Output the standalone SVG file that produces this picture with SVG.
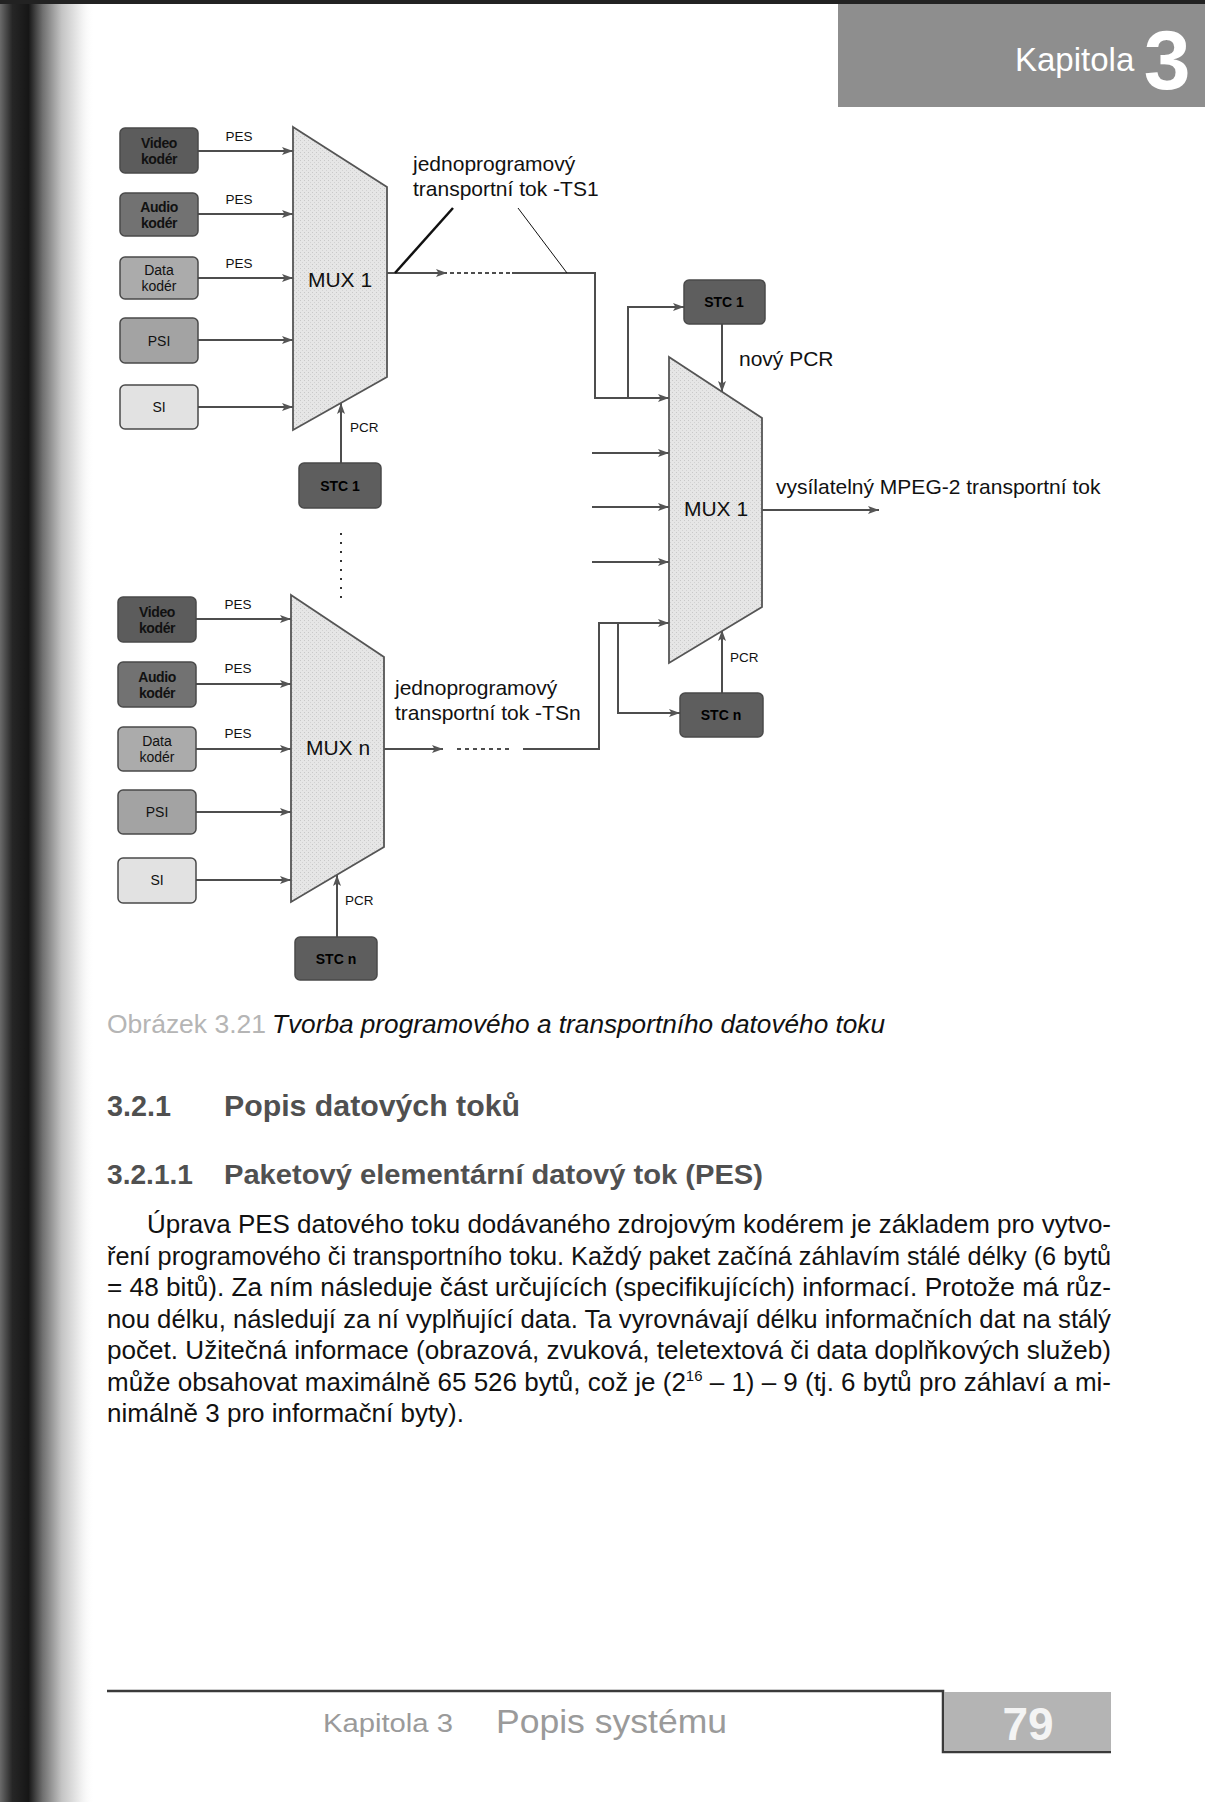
<svg xmlns="http://www.w3.org/2000/svg" width="1205" height="1802" viewBox="0 0 1205 1802">
<style>
.ln{fill:none;stroke:#4d4d4d;stroke-width:2}
.arr{marker-end:url(#ah)}
.mux{fill:url(#stip);stroke:#555;stroke-width:1.8}
.box{stroke:#4a4a4a;stroke-width:1.5}
.bl{font-family:"Liberation Sans",Arial,sans-serif;font-size:14px;font-weight:bold;fill:#111;text-anchor:middle;letter-spacing:-0.4px}
.br{font-family:"Liberation Sans",Arial,sans-serif;font-size:14px;fill:#111;text-anchor:middle}
.sm{font-family:"Liberation Sans",Arial,sans-serif;font-size:13.5px;fill:#111}
.lab{font-family:"Liberation Sans",Arial,sans-serif;font-size:21px;fill:#111}
.mx{font-family:"Liberation Sans",Arial,sans-serif;font-size:21px;fill:#111;text-anchor:middle}
.stc{font-family:"Liberation Sans",Arial,sans-serif;font-size:14px;font-weight:bold;fill:#000;text-anchor:middle}
.body{font-family:"Liberation Sans",Arial,sans-serif;font-size:26px;fill:#111}
.hd{font-family:"Liberation Sans",Arial,sans-serif;font-weight:bold;fill:#505050}
</style>
<defs>
<marker id="ah" viewBox="0 0 11 8" refX="11" refY="4" markerWidth="11" markerHeight="8" markerUnits="userSpaceOnUse" orient="auto">
<path d="M0,0 L11,4 L0,8 L2.5,4 z" fill="#555"/>
</marker>
<pattern id="stip" width="4" height="4" patternUnits="userSpaceOnUse">
<rect width="4" height="4" fill="#e6e6e6"/>
<rect x="0" y="0" width="1" height="1" fill="#c8c8c8"/>
<rect x="2" y="2" width="1" height="1" fill="#d2d2d2"/>
</pattern>
<linearGradient id="edge" x1="0" y1="0" x2="1" y2="0">
<stop offset="0" stop-color="#6a6a6a"/>
<stop offset="0.13" stop-color="#262626"/>
<stop offset="0.3" stop-color="#161616"/>
<stop offset="0.45" stop-color="#707070"/>
<stop offset="0.65" stop-color="#c4c4c4"/>
<stop offset="0.85" stop-color="#efefef"/>
<stop offset="1" stop-color="#fff" stop-opacity="0"/>
</linearGradient>
</defs>
<rect width="1205" height="1802" fill="#fff"/>
<rect x="0" y="0" width="95" height="1802" fill="url(#edge)"/>
<rect x="0" y="0" width="1205" height="4" fill="#222"/>

<g id="header">
<rect x="838" y="4" width="367" height="103" fill="#8e8e8e"/>
<text x="1015" y="71" font-family="Liberation Sans,Arial,sans-serif" font-size="33" fill="#fff">Kapitola</text>
<text x="1167" y="89" font-family="Liberation Sans,Arial,sans-serif" font-size="84" font-weight="bold" fill="#fff" text-anchor="middle">3</text>
</g>

<g id="connectors">
<path class="ln arr" d="M198,151 H293"/>
<path class="ln arr" d="M198,214 H293"/>
<path class="ln arr" d="M198,278 H293"/>
<path class="ln arr" d="M198,340 H293"/>
<path class="ln arr" d="M198,407 H293"/>
<path class="ln arr" d="M341,463 V403"/>
<path class="ln arr" d="M387,273 H447"/>
<path class="ln" d="M450,273 H510" stroke-dasharray="4 3"/>
<path class="ln arr" d="M512,273 H595 V398 H669"/>
<path class="ln arr" d="M628,398 V307 H684"/>
<path d="M395,273 L453,208" stroke="#111" stroke-width="2.5" fill="none"/>
<path d="M518,208 L567,273" stroke="#111" stroke-width="1" fill="none"/>
<path class="ln arr" d="M722,324 V392"/>
<path class="ln arr" d="M592,453 H669"/>
<path class="ln arr" d="M592,507 H669"/>
<path class="ln arr" d="M592,562 H669"/>
<path class="ln arr" d="M762,510 H879"/>
<path d="M341,533 V605" stroke="#333" stroke-width="2" stroke-dasharray="2 7" fill="none"/>
<path class="ln arr" d="M196,619 H291"/>
<path class="ln arr" d="M196,684 H291"/>
<path class="ln arr" d="M196,749 H291"/>
<path class="ln arr" d="M196,812 H291"/>
<path class="ln arr" d="M196,880 H291"/>
<path class="ln arr" d="M337,937 V875"/>
<path class="ln arr" d="M384,749 H443"/>
<path class="ln" d="M457,749 H512" stroke-dasharray="4 4"/>
<path class="ln arr" d="M523,749 H599 V623 H669"/>
<path class="ln arr" d="M618,623 V713 H680"/>
<path class="ln arr" d="M722,693 V630"/>
</g>

<g id="lbl-pes">
<text class="sm" x="239" y="141" text-anchor="middle">PES</text>
<text class="sm" x="239" y="204" text-anchor="middle">PES</text>
<text class="sm" x="239" y="268" text-anchor="middle">PES</text>
<text class="sm" x="238" y="609" text-anchor="middle">PES</text>
<text class="sm" x="238" y="673" text-anchor="middle">PES</text>
<text class="sm" x="238" y="738" text-anchor="middle">PES</text>
<text class="sm" x="350" y="432">PCR</text>
<text class="sm" x="345" y="905">PCR</text>
<text class="sm" x="730" y="662">PCR</text>
</g>

<g id="video1"><rect class="box" x="120" y="128" width="78" height="45" rx="5" fill="#5c5c5c"/><text class="bl" x="159" y="148">Video</text><text class="bl" x="159" y="164">kodér</text></g>
<g id="audio1"><rect class="box" x="120" y="193" width="78" height="43" rx="5" fill="#727272"/><text class="bl" x="159" y="212">Audio</text><text class="bl" x="159" y="228">kodér</text></g>
<g id="data1"><rect class="box" x="120" y="257" width="78" height="42" rx="5" fill="#ababab"/><text class="br" x="159" y="275">Data</text><text class="br" x="159" y="291">kodér</text></g>
<g id="psi1"><rect class="box" x="120" y="318" width="78" height="45" rx="5" fill="#a3a3a3"/><text class="br" x="159" y="346">PSI</text></g>
<g id="si1"><rect class="box" x="120" y="385" width="78" height="44" rx="5" fill="#e2e2e2"/><text class="br" x="159" y="412">SI</text></g>

<g id="mux1"><polygon class="mux" points="293,127 387,187 387,377 293,430"/><text class="mx" x="340" y="287">MUX 1</text></g>
<g id="stc1a"><rect class="box" x="299" y="463" width="82" height="45" rx="5" fill="#5e5e5e"/><text class="stc" x="340" y="491">STC 1</text></g>

<g id="lbl-ts1"><text class="lab" x="413" y="171">jednoprogramový</text><text class="lab" x="413" y="196">transportní tok -TS1</text></g>

<g id="stc1b"><rect class="box" x="684" y="280" width="81" height="44" rx="5" fill="#5e5e5e"/><text class="stc" x="724" y="307">STC 1</text></g>
<g id="lbl-pcr"><text class="lab" x="739" y="366">nový PCR</text></g>
<g id="muxr"><polygon class="mux" points="669,357 762,418 762,607 669,663"/><text class="mx" x="716" y="516">MUX 1</text></g>
<g id="lbl-out"><text class="lab" x="776" y="494">vysílatelný MPEG-2 transportní tok</text></g>
<g id="stcn-r"><rect class="box" x="680" y="693" width="83" height="44" rx="5" fill="#5e5e5e"/><text class="stc" x="721" y="720">STC n</text></g>

<g id="video2"><rect class="box" x="118" y="597" width="78" height="45" rx="5" fill="#5c5c5c"/><text class="bl" x="157" y="617">Video</text><text class="bl" x="157" y="633">kodér</text></g>
<g id="audio2"><rect class="box" x="118" y="662" width="78" height="45" rx="5" fill="#727272"/><text class="bl" x="157" y="682">Audio</text><text class="bl" x="157" y="698">kodér</text></g>
<g id="data2"><rect class="box" x="118" y="727" width="78" height="44" rx="5" fill="#ababab"/><text class="br" x="157" y="746">Data</text><text class="br" x="157" y="762">kodér</text></g>
<g id="psi2"><rect class="box" x="118" y="790" width="78" height="44" rx="5" fill="#a3a3a3"/><text class="br" x="157" y="817">PSI</text></g>
<g id="si2"><rect class="box" x="118" y="858" width="78" height="45" rx="5" fill="#e2e2e2"/><text class="br" x="157" y="885">SI</text></g>

<g id="muxn"><polygon class="mux" points="291,595 384,657 384,847 291,902"/><text class="mx" x="338" y="755">MUX n</text></g>
<g id="stcn-l"><rect class="box" x="295" y="937" width="82" height="43" rx="5" fill="#5e5e5e"/><text class="stc" x="336" y="964">STC n</text></g>
<g id="lbl-tsn"><text class="lab" x="395" y="695">jednoprogramový</text><text class="lab" x="395" y="720">transportní tok -TSn</text></g>

<g id="caption">
<text x="107" y="1033" font-family="Liberation Sans,Arial,sans-serif" font-size="25" fill="#b5b5b5" textLength="159" lengthAdjust="spacingAndGlyphs">Obrázek 3.21</text>
<text x="272" y="1033" font-family="Liberation Sans,Arial,sans-serif" font-size="25" font-style="italic" fill="#111" textLength="613" lengthAdjust="spacingAndGlyphs">Tvorba programového a transportního datového toku</text>
</g>

<g id="headings">
<text class="hd" x="107" y="1116" font-size="29" textLength="64" lengthAdjust="spacingAndGlyphs">3.2.1</text>
<text class="hd" x="224" y="1116" font-size="29" textLength="296" lengthAdjust="spacingAndGlyphs">Popis datových toků</text>
<text class="hd" x="107" y="1184" font-size="27" textLength="86" lengthAdjust="spacingAndGlyphs">3.2.1.1</text>
<text class="hd" x="224" y="1184" font-size="27" textLength="539" lengthAdjust="spacingAndGlyphs">Paketový elementární datový tok (PES)</text>
</g>

<g id="bodytext">
<text class="body" x="147" y="1233" textLength="964" lengthAdjust="spacingAndGlyphs">Úprava PES datového toku dodávaného zdrojovým kodérem je základem pro vytvo-</text>
<text class="body" x="107" y="1265" textLength="1004" lengthAdjust="spacingAndGlyphs">ření programového či transportního toku. Každý paket začíná záhlavím stálé délky (6 bytů</text>
<text class="body" x="107" y="1296" textLength="1004" lengthAdjust="spacingAndGlyphs">= 48 bitů). Za ním následuje část určujících (specifikujících) informací. Protože má růz-</text>
<text class="body" x="107" y="1328" textLength="1004" lengthAdjust="spacingAndGlyphs">nou délku, následují za ní vyplňující data. Ta vyrovnávají délku informačních dat na stálý</text>
<text class="body" x="107" y="1359" textLength="1004" lengthAdjust="spacingAndGlyphs">počet. Užitečná informace (obrazová, zvuková, teletextová či data doplňkových služeb)</text>
<text class="body" x="107" y="1391" textLength="1004" lengthAdjust="spacingAndGlyphs">může obsahovat maximálně 65 526 bytů, což je (2<tspan font-size="15" dy="-10">16</tspan><tspan dy="10"> – 1) – 9 (tj. 6 bytů pro záhlaví a mi-</tspan></text>
<text class="body" x="107" y="1422" textLength="357" lengthAdjust="spacingAndGlyphs">nimálně 3 pro informační byty).</text>
</g>

<g id="footer">
<path d="M107,1691 H943 V1752 H1111" fill="none" stroke="#3a3a3a" stroke-width="2.5"/>
<rect x="944" y="1692" width="167" height="59" fill="#b4b4b4"/>
<text x="1028" y="1740" font-family="Liberation Sans,Arial,sans-serif" font-size="46" font-weight="bold" fill="#f4f4f4" text-anchor="middle">79</text>
<text x="323" y="1732" font-family="Liberation Sans,Arial,sans-serif" font-size="26" fill="#9a9a9a" textLength="130" lengthAdjust="spacingAndGlyphs">Kapitola 3</text>
<text x="496" y="1733" font-family="Liberation Sans,Arial,sans-serif" font-size="33" fill="#9a9a9a" textLength="231" lengthAdjust="spacingAndGlyphs">Popis systému</text>
</g>
</svg>
